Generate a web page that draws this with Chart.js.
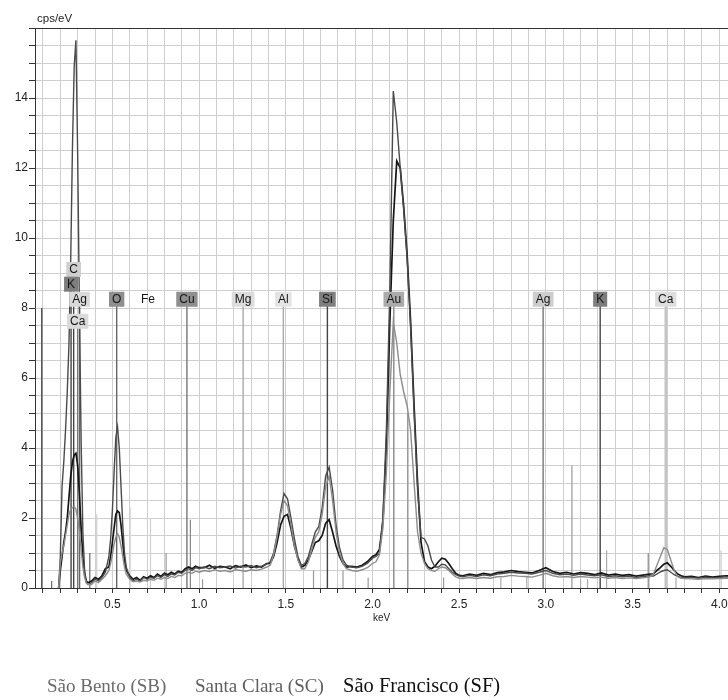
<!DOCTYPE html>
<html><head><meta charset="utf-8">
<script src="https://cdn.jsdelivr.net/npm/chart.js@4.4.1/dist/chart.umd.min.js"></script>
<style>html,body{margin:0;padding:0;background:#fff;}canvas{display:block;}</style>
</head><body>
<canvas id="c" width="728" height="700"></canvas>
<script>
// ---------- DATA ----------
const keV = [
  0.19,0.20,0.21,0.22,0.23,0.24,0.25,0.26,0.27,0.28,0.29,0.30,0.31,0.32,0.33,0.34,0.35,0.36,
  0.38,0.40,0.42,0.44,0.46,
  0.48,0.49,0.50,0.51,0.52,0.53,0.54,0.55,0.56,0.57,0.58,
  0.60,0.62,0.64,0.66,0.68,0.70,0.72,0.74,0.76,0.78,0.80,0.82,0.84,0.86,0.88,0.90,0.92,0.94,0.96,0.98,1.00,
  1.03,1.06,1.09,1.12,1.15,1.18,1.21,1.24,1.27,1.30,1.33,1.36,1.39,
  1.41,1.43,1.45,1.47,1.49,1.51,1.53,1.55,1.57,1.59,1.61,1.63,1.65,1.67,1.69,1.71,1.73,1.75,1.77,1.79,1.81,1.83,1.85,
  1.88,1.91,1.94,1.97,2.00,
  2.02,2.04,2.06,2.08,2.10,2.12,2.14,2.16,2.18,2.20,2.22,2.24,2.26,2.28,2.30,2.32,2.34,2.36,2.38,2.40,2.42,2.44,2.46,2.48,2.50,2.52,
  2.56,2.60,2.64,2.68,2.72,2.76,2.80,2.84,2.88,2.92,2.96,3.00,3.04,3.08,3.12,3.16,3.20,3.24,3.28,3.32,3.36,3.40,3.44,3.48,3.52,3.56,3.60,
  3.62,3.64,3.66,3.68,3.70,3.72,3.74,3.76,3.78,3.80,
  3.84,3.88,3.92,3.96,4.00,4.04,4.06
];
const countsSC = [
  0,0.9,2.9,3.6,4.5,5.6,7.0,9.4,12.6,14.9,15.65,12.4,8.0,4.2,1.6,0.5,0.15,0.1,
  0.15,0.25,0.2,0.3,0.45,
  0.9,1.4,2.2,3.3,4.3,4.6,4.0,2.9,1.8,1.0,0.6,
  0.3,0.2,0.25,0.2,0.3,0.25,0.3,0.28,0.35,0.3,0.38,0.33,0.4,0.37,0.45,0.42,0.5,0.55,0.5,0.58,0.55,
  0.6,0.55,0.62,0.58,0.6,0.63,0.57,0.62,0.6,0.64,0.58,0.62,0.68,
  0.75,1.0,1.5,2.2,2.7,2.55,2.0,1.4,0.9,0.65,0.7,0.9,1.25,1.6,1.75,2.3,3.2,3.45,2.8,1.8,1.15,0.8,0.65,
  0.6,0.58,0.62,0.7,0.85,
  0.9,1.0,2.0,4.5,8.5,14.2,13.3,12.0,10.8,9.4,7.4,5.0,2.8,1.45,1.4,1.2,0.8,0.6,0.6,0.68,0.66,0.55,0.45,0.38,0.34,0.32,
  0.36,0.33,0.38,0.35,0.4,0.42,0.45,0.43,0.42,0.4,0.45,0.5,0.42,0.38,0.4,0.36,0.4,0.37,0.35,0.38,0.33,0.35,0.32,0.34,0.3,0.33,0.35,
  0.34,0.4,0.46,0.5,0.52,0.45,0.38,0.33,0.3,0.3,
  0.3,0.28,0.31,0.29,0.3,0.32,0.31
];
const countsSF = [
  0,0.5,0.9,1.3,1.6,2.0,2.6,3.2,3.6,3.8,3.85,3.5,2.7,1.7,0.9,0.4,0.2,0.15,
  0.2,0.3,0.25,0.35,0.55,
  0.6,0.9,1.3,1.7,2.1,2.2,2.15,1.8,1.3,0.8,0.5,
  0.35,0.25,0.3,0.22,0.32,0.28,0.35,0.3,0.4,0.33,0.42,0.38,0.45,0.4,0.48,0.45,0.55,0.6,0.55,0.62,0.58,
  0.58,0.65,0.56,0.62,0.6,0.55,0.64,0.6,0.66,0.58,0.63,0.6,0.7,
  0.7,0.9,1.3,1.8,2.05,2.1,1.7,1.2,0.85,0.6,0.65,0.8,1.05,1.3,1.35,1.5,1.85,1.95,1.6,1.2,0.9,0.7,0.6,
  0.62,0.6,0.65,0.75,0.9,
  0.95,1.1,1.9,4.0,7.6,10.5,12.2,12.0,10.9,9.5,7.6,5.2,3.0,1.3,0.75,0.6,0.55,0.62,0.75,0.85,0.82,0.7,0.55,0.42,0.36,0.35,
  0.4,0.36,0.42,0.38,0.44,0.46,0.5,0.47,0.45,0.43,0.5,0.58,0.47,0.42,0.45,0.4,0.44,0.42,0.38,0.43,0.37,0.4,0.36,0.38,0.34,0.37,0.4,
  0.4,0.5,0.58,0.68,0.72,0.62,0.5,0.4,0.35,0.32,
  0.33,0.3,0.34,0.31,0.33,0.35,0.34
];
const countsSB = [
  0,0.7,1.0,1.2,1.5,1.8,2.1,2.25,2.3,2.33,2.25,2.0,1.6,1.1,0.6,0.3,0.15,0.1,
  0.1,0.2,0.15,0.25,0.35,
  0.5,0.7,0.95,1.25,1.45,1.55,1.45,1.2,0.9,0.6,0.4,
  0.25,0.18,0.2,0.17,0.22,0.2,0.25,0.22,0.28,0.25,0.3,0.27,0.33,0.3,0.36,0.35,0.42,0.45,0.42,0.48,0.45,
  0.5,0.47,0.52,0.48,0.5,0.46,0.52,0.5,0.48,0.52,0.5,0.54,0.6,
  0.65,0.95,1.45,2.1,2.5,2.35,1.8,1.2,0.8,0.55,0.55,0.75,1.1,1.45,1.6,2.1,2.9,3.2,2.5,1.6,1.0,0.7,0.55,
  0.5,0.48,0.52,0.58,0.7,
  0.75,0.95,1.7,3.3,5.6,7.6,7.0,6.1,5.6,5.2,4.5,3.0,1.6,1.0,0.7,0.55,0.5,0.48,0.55,0.6,0.58,0.5,0.4,0.32,0.28,0.27,
  0.3,0.27,0.3,0.28,0.32,0.33,0.36,0.34,0.33,0.31,0.36,0.42,0.35,0.31,0.33,0.3,0.33,0.31,0.29,0.31,0.28,0.3,0.27,0.29,0.27,0.29,0.32,
  0.4,0.65,0.9,1.15,1.1,0.8,0.5,0.32,0.28,0.27,
  0.26,0.25,0.27,0.26,0.27,0.28,0.27
];
const seriesNames = ['São Bento (SB)', 'Santa Clara (SC)', 'São Francisco (SF)'];

const elementNames = ['C','K','Ag','Ca','O','Fe','Cu','Mg','Al','Si','Au','Ag','K','Ca'];
const elementKeV   = [0.277,0.262,0.311,0.300,0.525,0.705,0.930,1.254,1.486,1.740,2.123,2.984,3.313,3.691];
const elementLevel = [9.1,8.68,8.25,7.62,8.25,8.25,8.25,8.25,8.25,8.25,8.25,8.25,8.25,8.25];

const markerKeV = [0.093,0.15,0.37,0.41,0.605,0.72,0.81,0.95,1.02,1.66,1.83,1.975,2.204,2.41,2.74,2.89,3.15,3.20,3.24,3.35,3.59,3.75,4.01];
const markerTop = [8.0,0.2,1.0,2.1,2.3,2.0,1.0,1.95,0.25,0.5,0.5,0.3,5.0,0.3,0.3,0.35,3.5,0.25,0.25,1.07,1.0,0.3,1.07];

const xTickLabels = ['0.5','1.0','1.5','2.0','2.5','3.0','3.5','4.0'];
const yTickLabels = ['0','2','4','6','8','10','12','14'];
const xAxisTitle = 'keV';
const yAxisTitle = 'cps/eV';

// ---------- STYLES ----------
const seriesColors = ['#8c8c8c', '#4a4a4a', '#151515'];
const seriesWidths = [1.4, 1.4, 1.7];
const legendColors = ['#6b6b6b', '#5e5e5e', '#111111'];
const boxShade  = ['#cfcfcf','#7d7d7d','#dadada','#dadada','#8f8f8f',null,'#8f8f8f','#dcdcdc','#e4e4e4','#7f7f7f','#ababab','#cdcdcd','#7d7d7d','#dedede'];
const lineShade = ['#444','#444','#666','#777','#666',null,'#777','#aaa','#aaa','#444','#888','#777','#444','#c4c4c4'];
const markerShade = ['#555','#666','#666','#cfcfcf','#dedede','#cfcfcf','#999','#888','#999','#999','#999','#999','#888','#999','#aaa','#aaa','#999','#aaa','#aaa','#aaa','#888','#aaa','#c8c8c8'];

[countsSC, countsSF, countsSB].forEach(a => { if (a.length !== keV.length) throw new Error('length mismatch ' + a.length + ' vs ' + keV.length); });

// ---------- DATASETS ----------
const datasets = [];
[countsSB, countsSC, countsSF].forEach((arr, i) => {
  datasets.push({
    label: seriesNames[i],
    data: keV.map((x, k) => ({x: x, y: arr[k]})),
    borderColor: seriesColors[i], borderWidth: seriesWidths[i],
    pointRadius: 0, tension: 0, order: 0
  });
});
elementKeV.forEach((e, i) => {
  if (!lineShade[i]) return;
  datasets.push({
    label: 'el-' + elementNames[i],
    data: [{x: e, y: 0}, {x: e, y: elementLevel[i]}],
    borderColor: lineShade[i], borderWidth: (i === 13 ? 2.5 : 1.4),
    pointRadius: 0, order: 2
  });
});
markerKeV.forEach((e, i) => {
  datasets.push({
    label: 'mk' + i,
    data: [{x: e, y: 0}, {x: e, y: markerTop[i]}],
    borderColor: markerShade[i], borderWidth: (i === 0 ? 1.5 : 1.2),
    pointRadius: 0, order: 3
  });
});

const near = (v, s) => s.find(t => Math.abs(parseFloat(t) - v) < 1e-6);
const sans = '"Liberation Sans", Arial, sans-serif';

const overlay = {
  id: 'overlay',
  afterDatasetsDraw(chart) {
    const {ctx, chartArea: a, scales: {x, y}} = chart;
    ctx.save();
    ctx.strokeStyle = '#333'; ctx.lineWidth = 1;
    ctx.beginPath(); ctx.moveTo(a.left, a.top + 0.5); ctx.lineTo(a.right, a.top + 0.5); ctx.stroke();
    ctx.font = '12px ' + sans;
    ctx.textAlign = 'center'; ctx.textBaseline = 'middle';
    elementNames.forEach((n, i) => {
      const px = x.getPixelForValue(elementKeV[i]);
      const py = y.getPixelForValue(elementLevel[i]);
      const w = ctx.measureText(n).width + 6, h = 15;
      if (boxShade[i]) { ctx.fillStyle = boxShade[i]; ctx.fillRect(px - w / 2, py - h / 2, w, h); }
      ctx.fillStyle = '#151515';
      ctx.fillText(n, px, py + 0.5);
    });
    ctx.restore();
  },
  afterDraw(chart) {
    const {ctx, chartArea: a} = chart;
    ctx.save();
    ctx.font = '11.5px ' + sans;
    ctx.fillStyle = '#222'; ctx.textAlign = 'left'; ctx.textBaseline = 'middle';
    ctx.fillText(yAxisTitle, a.left + 2, a.top - 9);
    const lx = [47, 195, 343];
    const ls = [19, 19, 20.5];
    ctx.textBaseline = 'alphabetic';
    seriesNames.forEach((n, i) => {
      ctx.font = ls[i] + 'px "Liberation Serif", "Times New Roman", serif';
      ctx.fillStyle = legendColors[i];
      ctx.fillText(n, lx[i], 692);
    });
    ctx.restore();
  }
};

new Chart(document.getElementById('c'), {
  type: 'line',
  data: {datasets},
  options: {
    responsive: false, animation: false, devicePixelRatio: 1,
    layout: {padding: {left: 0, right: 0, top: 28, bottom: 76}},
    plugins: {legend: {display: false}, tooltip: {enabled: false}, title: {display: false}},
    scales: {
      x: {
        type: 'linear', min: 0.054, max: 4.05,
        border: {display: true, color: '#333', width: 1},
        grid: {color: '#cfcfcf', lineWidth: 1, drawTicks: true, tickLength: 5, tickColor: '#333'},
        ticks: {
          stepSize: 0.1, includeBounds: false, autoSkip: false, maxRotation: 0, padding: 4,
          color: '#222', font: {family: sans, size: 12},
          callback: v => near(v, xTickLabels) || ''
        },
        title: {display: true, text: xAxisTitle, color: '#222', padding: 0,
          font: {family: sans, size: 10}},
        afterFit: s => { s.height = 36; s.paddingLeft = 0; s.paddingRight = 0; }
      },
      y: {
        type: 'linear', min: 0, max: 16,
        border: {display: true, color: '#333', width: 1},
        grid: {color: '#cfcfcf', lineWidth: 1, drawTicks: true, tickLength: 6, tickColor: '#333'},
        ticks: {
          stepSize: 0.5, autoSkip: false, padding: 1, color: '#222',
          font: {family: sans, size: 12},
          callback: v => near(v, yTickLabels) || ''
        },
        afterFit: s => { s.width = 35; s.paddingTop = 0; s.paddingBottom = 0; }
      }
    }
  },
  plugins: [overlay]
});
</script>
</body></html>
